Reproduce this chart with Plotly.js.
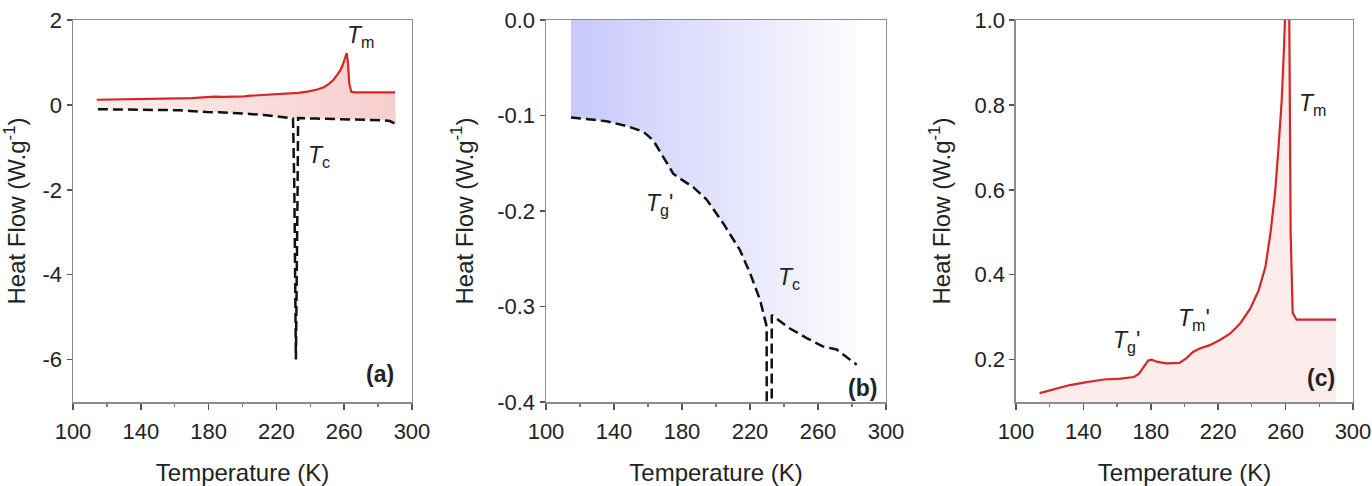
<!DOCTYPE html>
<html>
<head>
<meta charset="utf-8">
<script src="https://cdn.plot.ly/plotly-3.0.1.min.js"></script>
<style>html,body{margin:0;padding:0;background:#fff;}#chart{width:1372px;height:486px;}</style>
</head>
<body>
<div id="chart"></div>
<script>
// ---- Data ----
// Heating scan (red solid) - Temperature (K) and Heat Flow (W/g)
const heatT  = [114, 122, 132, 142, 152, 162, 170, 173, 176, 178.5, 180.5, 183.5, 189, 197, 201, 205, 209, 215, 221, 227, 233, 239, 244, 248, 251, 253.7, 255.7, 257.7, 259, 260.3, 261.5, 262.2, 263, 264.2, 266.5, 275, 290];
const heatHF = [0.121, 0.129, 0.140, 0.147, 0.153, 0.155, 0.159, 0.167, 0.183, 0.198, 0.200, 0.195, 0.191, 0.192, 0.203, 0.218, 0.226, 0.234, 0.246, 0.261, 0.285, 0.320, 0.363, 0.418, 0.497, 0.591, 0.694, 0.811, 0.929, 1.08, 1.22, 1.0, 0.50, 0.31, 0.294, 0.294, 0.294];
// Cooling scan (black dashed)
const coolT  = [114.7, 135.7, 147.5, 157.3, 163.1, 169, 174.9, 178.8, 186.6, 194.5, 204.3, 214.1, 220, 225.9, 228.8, 229.8, 230.6, 231.5, 232.5, 232.8, 243.5, 253.3, 263.1, 271, 282.8, 287, 290.5];
const coolHF = [-0.102, -0.106, -0.111, -0.117, -0.126, -0.143, -0.161, -0.166, -0.175, -0.188, -0.213, -0.241, -0.265, -0.293, -0.314, -0.321, -2.0, -6.0, -2.0, -0.309, -0.323, -0.333, -0.342, -0.345, -0.361, -0.38, -0.45];
// Upper temperature shown in the zoomed cooling panel (b)
const coolZoomMaxT = 283;

// Tick values / labels
const xTicks   = [100, 140, 180, 220, 260, 300];
const xLabels  = ['100', '140', '180', '220', '260', '300'];
const xMinor   = [120, 160, 200, 240, 280];
const yTicksA  = [-6, -4, -2, 0, 2];
const yLabelsA = ['-6', '-4', '-2', '0', '2'];
const yTicksB  = [-0.4, -0.3, -0.2, -0.1, 0.0];
const yLabelsB = ['-0.4', '-0.3', '-0.2', '-0.1', '0.0'];
const yTicksC  = [0.2, 0.4, 0.6, 0.8, 1.0];
const yLabelsC = ['0.2', '0.4', '0.6', '0.8', '1.0'];

const xTitle = 'Temperature (K)';
const yTitle = 'Heat Flow (W.g<sup>-1</sup>)';

// ---- Derived series ----
const isSpike = v => v < -0.5;
const coolNoSpikeT = coolT.filter((t, i) => !isSpike(coolHF[i]));
const coolNoSpikeHF = coolHF.filter(v => !isSpike(v));

// panel (a): area between heating and cooling curves
const fillAx = heatT.concat(coolNoSpikeT.slice().reverse());
const fillAy = heatHF.concat(coolNoSpikeHF.slice().reverse());

// panel (b): cooling curve restricted to zoom window
const bT = [], bHF = [];
coolT.forEach((t, i) => { if (t <= coolZoomMaxT) { bT.push(t); bHF.push(coolHF[i]); } });
const bNsT = [], bNsHF = [];
bT.forEach((t, i) => { if (!isSpike(bHF[i])) { bNsT.push(t); bNsHF.push(bHF[i]); } });
const yRangeB = [-0.4, 0.0];
const fillBx = bNsT.concat([bNsT[bNsT.length - 1], bNsT[0]]);
const fillBy = bNsHF.concat([yRangeB[1], yRangeB[1]]);

const FONT = 'Liberation Sans, Arial, Helvetica, sans-serif';
const RED = '#d62628';
const DASH = '10px,5px';

const traces = [
  { x: fillAx, y: fillAy, xaxis: 'x', yaxis: 'y', type: 'scatter', mode: 'lines', fill: 'toself',
    line: { width: 0 }, fillcolor: 'rgba(249,212,212,1)',
    fillgradient: { type: 'horizontal', colorscale: [[0, 'rgb(253,238,238)'], [1, 'rgb(248,206,206)']] },
    hoverinfo: 'skip', showlegend: false },
  { x: coolT, y: coolHF, xaxis: 'x', yaxis: 'y', type: 'scatter', mode: 'lines',
    line: { color: '#111', width: 2.5, dash: DASH }, showlegend: false, name: 'cooling' },
  { x: heatT, y: heatHF, xaxis: 'x', yaxis: 'y', type: 'scatter', mode: 'lines',
    line: { color: RED, width: 2.2 }, showlegend: false, name: 'heating' },

  { x: fillBx, y: fillBy, xaxis: 'x2', yaxis: 'y2', type: 'scatter', mode: 'lines', fill: 'toself',
    line: { width: 0 }, fillcolor: 'rgba(220,220,250,1)',
    fillgradient: { type: 'horizontal', colorscale: [[0, 'rgb(200,200,251)'], [1, 'rgb(252,252,255)']] },
    hoverinfo: 'skip', showlegend: false },
  { x: bT, y: bHF, xaxis: 'x2', yaxis: 'y2', type: 'scatter', mode: 'lines',
    line: { color: '#111', width: 2.5, dash: DASH }, showlegend: false, name: 'cooling' },

  { x: heatT, y: heatHF, xaxis: 'x3', yaxis: 'y3', type: 'scatter', mode: 'lines', fill: 'tozeroy',
    fillcolor: 'rgba(252,236,236,1)',
    line: { color: RED, width: 2.2 }, showlegend: false, name: 'heating' }
];

function xAxis(domain, anchor) {
  return {
    domain: domain, anchor: anchor, range: [100, 300],
    tickmode: 'array', tickvals: xTicks, ticktext: xLabels,
    ticks: 'outside', ticklen: 6, tickwidth: 1.5, tickcolor: '#555',
    ticklabelstandoff: 3,
    minor: { tickmode: 'array', tickvals: xMinor, ticks: 'outside', ticklen: 3, tickwidth: 1.2, tickcolor: '#777', showgrid: false },
    showline: true, linecolor: '#8c8c8c', linewidth: 1.5, mirror: true,
    showgrid: false, zeroline: false,
    tickfont: { family: FONT, size: 22, color: '#222' },
    title: { text: xTitle, font: { family: FONT, size: 24, color: '#222' }, standoff: 22 }
  };
}
function yAxis(range, tv, tt, anchor) {
  return {
    domain: [0.1728, 0.9588], anchor: anchor, range: range,
    tickmode: 'array', tickvals: tv, ticktext: tt,
    ticks: 'outside', ticklen: 5, tickwidth: 1.5, tickcolor: '#555',
    showline: true, linecolor: '#8c8c8c', linewidth: 1.5, mirror: true,
    showgrid: false, zeroline: false,
    tickfont: { family: FONT, size: 22, color: '#222' },
    title: { text: yTitle, font: { family: FONT, size: 24, color: '#222' }, standoff: 17 }
  };
}

const annFont = { family: FONT, size: 23, color: '#222' };
function lab(xref, yref, x, y, text, xa, ya) {
  return { xref: xref, yref: yref, x: x, y: y, text: text, showarrow: false,
           xanchor: xa || 'left', yanchor: ya || 'top', font: annFont };
}

const layout = {
  width: 1372, height: 486,
  margin: { l: 0, r: 0, t: 0, b: 0, pad: 0 },
  paper_bgcolor: '#fff', plot_bgcolor: '#fff',
  showlegend: false,
  xaxis: xAxis([0.05321, 0.30029], 'y'),
  yaxis: yAxis([-7, 2], yTicksA, yLabelsA, 'x'),
  xaxis2: xAxis([0.39796, 0.64577], 'y2'),
  yaxis2: yAxis(yRangeB, yTicksB, yLabelsB, 'x2'),
  xaxis3: xAxis([0.74052, 0.98615], 'y3'),
  yaxis3: yAxis([0.1, 1.0], yTicksC, yLabelsC, 'x3'),
  annotations: [
    lab('x', 'y', 260.5, 2.0, '<i>T</i><sub>m</sub>'),
    lab('x', 'y', 237.5, -0.83, '<i>T</i><sub>c</sub>'),
    lab('x', 'y', 281.1, -6.34, '<b>(a)</b>', 'center', 'middle'),
    lab('x2', 'y2', 157.6, -0.176, "<i>T</i><sub>g</sub>'"),
    lab('x2', 'y2', 235.3, -0.253, '<i>T</i><sub>c</sub>'),
    lab('x2', 'y2', 285.9, -0.385, '<b>(b)</b>', 'center', 'middle'),
    lab('x3', 'y3', 266.8, 0.840, '<i>T</i><sub>m</sub>'),
    lab('x3', 'y3', 195.0, 0.333, "<i>T</i><sub>m</sub>'"),
    lab('x3', 'y3', 156.4, 0.281, "<i>T</i><sub>g</sub>'"),
    lab('x3', 'y3', 281.0, 0.157, '<b>(c)</b>', 'center', 'middle')
  ]
};

Plotly.newPlot('chart', traces, layout, { staticPlot: true, displayModeBar: false });
</script>
</body>
</html>
